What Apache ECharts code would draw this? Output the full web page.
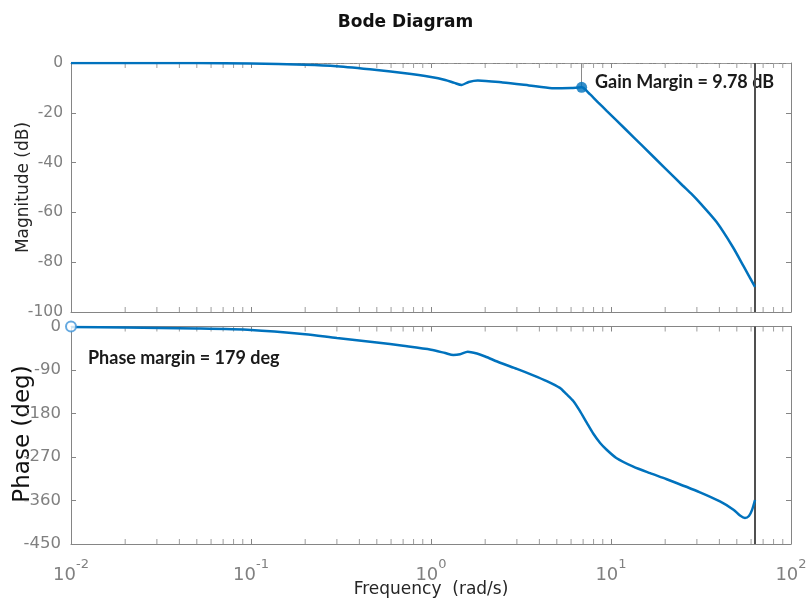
<!DOCTYPE html>
<html>
<head>
<meta charset="utf-8">
<script src="https://cdn.jsdelivr.net/npm/echarts@6/dist/echarts.min.js"></script>
<style>html,body{margin:0;padding:0;background:#fff}#c{width:811px;height:603px}</style>
</head>
<body>
<div id="c"></div>
<script>
// ---- data ----
const magFreq = [0.01,0.02,0.05,0.1,0.2,0.3,0.5,0.7,1.0,1.2,1.35,1.48,1.62,1.82,2.5,3.5,4.7,6.0,6.87,7.63,8.5,9.46,12,15,20,25,28,31.2,38.6,47.6,54.4,63.1];
const magDB   = [0,0,-0.05,-0.2,-0.7,-1.3,-2.8,-4.0,-5.6,-6.8,-8.0,-8.8,-7.6,-7.0,-7.8,-9.0,-10.1,-10.0,-9.78,-12.5,-15.9,-19.2,-26.5,-33.4,-42.3,-49.2,-52.6,-56.2,-63.9,-74,-81.5,-89.9];
const phFreq  = [0.01,0.02,0.05,0.1,0.2,0.3,0.5,0.7,1.0,1.2,1.33,1.45,1.6,1.8,2.0,2.42,3.0,3.7,4.4,5.2,5.66,6.17,6.7,7.33,7.98,8.7,9.46,10.7,13.3,16.5,20.4,31.2,40.3,47.9,52.1,55.5,58.4,60.7,63.1];
const phDeg   = [-1,-2,-4,-7,-16,-24,-33,-40,-48,-55,-59,-57.5,-52,-56,-62,-75,-87.7,-101,-113,-127,-140,-154,-174,-199,-222,-241,-255,-272,-290,-303.5,-316,-343,-362,-379,-391,-396,-392,-380,-359];
const magTicks = [-100,-80,-60,-40,-20,0];
const phTicks  = [-450,-360,-270,-180,-90,0];
const gainMargin = {freq: 6.87, db: -9.78, label: 'Gain Margin = 9.78 dB'};
const phaseMargin = {freq: 0.01, deg: 0, label: 'Phase margin = 179 deg'};
const stopFreq = 63.1;
const decades = [0.01,0.1,1,10];
const minorMult = [2,3,4,5,6,7,8,9];

const minorFreqs = [];
decades.forEach(d => minorMult.forEach(m => minorFreqs.push(d*m)));

const BLUE = '#0072BD';
const AXC = '#858585';
const LBL = '#808080';
const FF = 'DejaVu Sans';

const chart = echarts.init(document.getElementById('c'), null, {renderer:'canvas'});

function xAx(grid, pos, showLabel){
  return {
    type:'log', gridIndex:grid, position:pos, min:0.01, max:100, logBase:10,
    axisLine:{show:true, onZero:false, lineStyle:{color:AXC, width:1}},
    axisTick:{show:true, inside:true, length:5, lineStyle:{color:AXC}},
    splitLine:{show:false},
    axisLabel: showLabel ? {
      show:true, margin:14,
      formatter: v => '{b|10}{s|' + Math.round(Math.log10(v)) + '}',
      rich:{
        b:{fontSize:18, color:LBL, fontFamily:FF, verticalAlign:'bottom', lineHeight:26},
        s:{fontSize:13, color:LBL, fontFamily:FF, verticalAlign:'top', lineHeight:26}
      }
    } : {show:false}
  };
}
function yAx(grid, pos, ticks, interval, showLabel, fs, margin){
  return {
    type:'value', gridIndex:grid, position:pos, min:ticks[0], max:ticks[ticks.length-1], interval:interval,
    axisLine:{show:true, lineStyle:{color:AXC, width:1}},
    axisTick:{show:true, inside:true, length:5, lineStyle:{color:AXC}},
    splitLine:{show:false},
    axisLabel: showLabel ? {show:true, color:LBL, fontSize:fs, fontFamily:FF, margin:margin} : {show:false}
  };
}
function minorSeries(xi, yi, yval, off){
  return {
    type:'scatter', xAxisIndex:xi, yAxisIndex:yi, silent:true, clip:false,
    symbol:'rect', symbolSize:[1,5], symbolOffset:[0,off],
    itemStyle:{color:AXC}, z:1,
    data: minorFreqs.map(f => [f, yval])
  };
}

const option = {
  animation:false,
  backgroundColor:'#fff',
  title:{text:'Bode Diagram', left:'center', top:9,
    textStyle:{fontSize:17, fontWeight:'bold', fontFamily:FF, color:'#111'}},
  grid:[
    {left:71, top:63, width:720, height:249},
    {left:71, top:326.5, width:720, height:217.5}
  ],
  xAxis:[ xAx(0,'bottom',false), xAx(0,'top',false), xAx(1,'bottom',true), xAx(1,'top',false) ],
  yAxis:[
    yAx(0,'left',magTicks,20,true,15.5,8), yAx(0,'right',magTicks,20,false),
    yAx(1,'left',phTicks,90,true,16.5,10), yAx(1,'right',phTicks,90,false)
  ],
  series:[
    {
      type:'line', xAxisIndex:0, yAxisIndex:0, showSymbol:false, smooth:0.25,
      lineStyle:{color:BLUE, width:2.5}, z:3,
      data: magFreq.map((f,i)=>[f, magDB[i]]),
      markLine:{
        silent:true, symbol:['none','none'], label:{show:false}, z:2,
        data:[
          {yAxis:0, lineStyle:{color:'#9a9a9a', width:1, type:[6,3,1,3]}},
          {xAxis:stopFreq, lineStyle:{color:'#505050', width:2, type:'solid'}},
          [{coord:[gainMargin.freq,0], lineStyle:{color:'#8a8a8a', width:1, type:'solid'}},{coord:[gainMargin.freq,gainMargin.db]}]
        ]
      }
    },
    {
      type:'line', xAxisIndex:2, yAxisIndex:2, showSymbol:false, smooth:0.25,
      lineStyle:{color:BLUE, width:2.5}, z:3,
      data: phFreq.map((f,i)=>[f, phDeg[i]]),
      markLine:{
        silent:true, symbol:['none','none'], label:{show:false}, z:2,
        data:[ {xAxis:stopFreq, lineStyle:{color:'#505050', width:2, type:'solid'}} ]
      }
    },
    {
      type:'scatter', xAxisIndex:0, yAxisIndex:0, silent:true, clip:false, z:4,
      symbol:'circle', symbolSize:11, itemStyle:{color:BLUE},
      data:[[gainMargin.freq, gainMargin.db]]
    },
    {
      type:'scatter', xAxisIndex:2, yAxisIndex:2, silent:true, clip:false, z:4,
      symbol:'emptyCircle', symbolSize:10,
      itemStyle:{color:'#3f93d8', borderWidth:1.5},
      data:[[phaseMargin.freq, phaseMargin.deg]]
    },
    minorSeries(0,0,-100,-2.5), minorSeries(0,0,0,2.5),
    minorSeries(2,2,-450,-2.5), minorSeries(2,2,0,2.5)
  ],
  graphic:[
    {type:'text', x:24, y:187.5, rotation:Math.PI/2,
      style:{text:'Magnitude (dB)', fill:'#262626', fontSize:17, fontFamily:FF, align:'center', verticalAlign:'middle', textAlign:'center', textVerticalAlign:'middle'}},
    {type:'text', x:23, y:434, rotation:Math.PI/2,
      style:{text:'Phase (deg)', fill:'#111', fontSize:23, fontFamily:FF, align:'center', verticalAlign:'middle', textAlign:'center', textVerticalAlign:'middle'}},
    {type:'text', x:431, y:590,
      style:{text:'Frequency  (rad/s)', fill:'#262626', fontSize:17, fontFamily:FF, align:'center', verticalAlign:'middle', textAlign:'center', textVerticalAlign:'middle'}},
    {type:'text', x:595, y:82,
      style:{text:gainMargin.label, fill:'#1a1a1a', fontSize:18, fontWeight:'bold', fontFamily:'Lato', align:'left', verticalAlign:'middle', textAlign:'left', textVerticalAlign:'middle'}},
    {type:'text', x:88, y:358,
      style:{text:phaseMargin.label, fill:'#1a1a1a', fontSize:18, fontWeight:'bold', fontFamily:'Lato', align:'left', verticalAlign:'middle', textAlign:'left', textVerticalAlign:'middle'}}
  ]
};
chart.setOption(option);
</script>
</body>
</html>
